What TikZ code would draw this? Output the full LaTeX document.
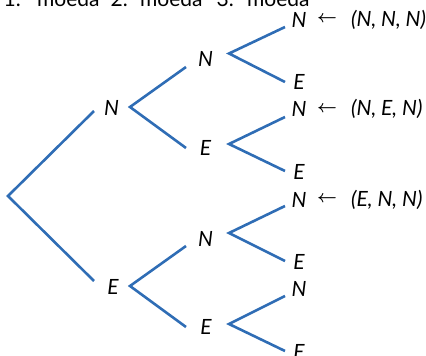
\documentclass[tikz,border=0pt]{standalone}
\usepackage{fontspec}
\setmainfont{Lato}
\definecolor{treeblue}{HTML}{2F6DB5}
\begin{document}
\begin{tikzpicture}[x=1pt,y=-1pt,
  lbl/.style={inner sep=0pt, font=\fontsize{21}{24}\selectfont\itshape},
  hdrnum/.style={inner sep=0pt, anchor=base east, font=\fontsize{21}{24}\selectfont},
  hdrword/.style={inner sep=0pt, anchor=base west, font=\fontsize{21}{24}\selectfont},
  res/.style={inner sep=0pt, anchor=west, font=\fontsize{21}{24}\selectfont\itshape},
  arr/.style={inner sep=0pt, font=\fontsize{19}{22}\selectfont\boldmath},
  branch/.style={draw=treeblue, line width=2.6pt}]
\useasboundingbox (0,0) rectangle (426,356);
% header
\node[hdrnum] (h1n) at (21,6) {1.};
\node[hdrword] (h1w) at (37,6) {moeda};
\node[hdrnum] (h2n) at (128,6) {2.};
\node[hdrword] (h2w) at (140,6) {moeda};
\node[hdrnum] (h3n) at (234,6) {3.};
\node[hdrword] (h3w) at (247,6) {moeda};
% nodes
\coordinate (root) at (8,196);
\node[lbl] (n1) at (111.5,108) {N};
\node[lbl] (e1) at (113,286.5) {E};
\node[lbl] (nn) at (205.5,58.5) {N};
\node[lbl] (ne) at (205.5,148) {E};
\node[lbl] (en) at (205.5,239) {N};
\node[lbl] (ee) at (206,326.5) {E};
\node[lbl] (nnn) at (299,19.5) {N};
\node[lbl] (nne) at (299,82) {E};
\node[lbl] (nen) at (299,109) {N};
\node[lbl] (nee) at (299,172) {E};
\node[lbl] (enn) at (299,199.5) {N};
\node[lbl] (ene) at (299,261.5) {E};
\node[lbl] (een) at (299,289) {N};
\node[lbl] (eee) at (299,351.5) {E};
% results
\node[arr] (a1) at (327,19.5) {$\leftarrow$};
\node[res] (r1) at (351,19.5) {(N, N, N)};
\node[arr] (a2) at (327,109) {$\leftarrow$};
\node[res] (r2) at (351,109) {(N, E, N)};
\node[arr] (a3) at (327,199.5) {$\leftarrow$};
\node[res] (r3) at (351,199.5) {(E, N, N)};
% branches
\draw[branch] ([shift={(-17.5,3)}]n1.center) -- (root) -- ([shift={(-19,-5.5)}]e1.center);
\draw[branch] ([shift={(-19.5,8.5)}]nn.center) -- ([shift={(18.5,-1)}]n1.center) -- ([shift={(-19.5,0)}]ne.center);
\draw[branch] ([shift={(-19.5,7)}]en.center) -- ([shift={(17,-0.5)}]e1.center) -- ([shift={(-20,0.5)}]ee.center);
\draw[branch] ([shift={(-14,7.5)}]nnn.center) -- ([shift={(23.5,-5)}]nn.center) -- ([shift={(-14,0)}]nne.center);
\draw[branch] ([shift={(-14,8)}]nen.center) -- ([shift={(23.5,-4)}]ne.center) -- ([shift={(-14,-1)}]nee.center);
\draw[branch] ([shift={(-14,6.5)}]enn.center) -- ([shift={(23.5,-6)}]en.center) -- ([shift={(-14,-0.5)}]ene.center);
\draw[branch] ([shift={(-14,7)}]een.center) -- ([shift={(23,-2.5)}]ee.center) -- ([shift={(-14,-0.5)}]eee.center);
\end{tikzpicture}
\end{document}
